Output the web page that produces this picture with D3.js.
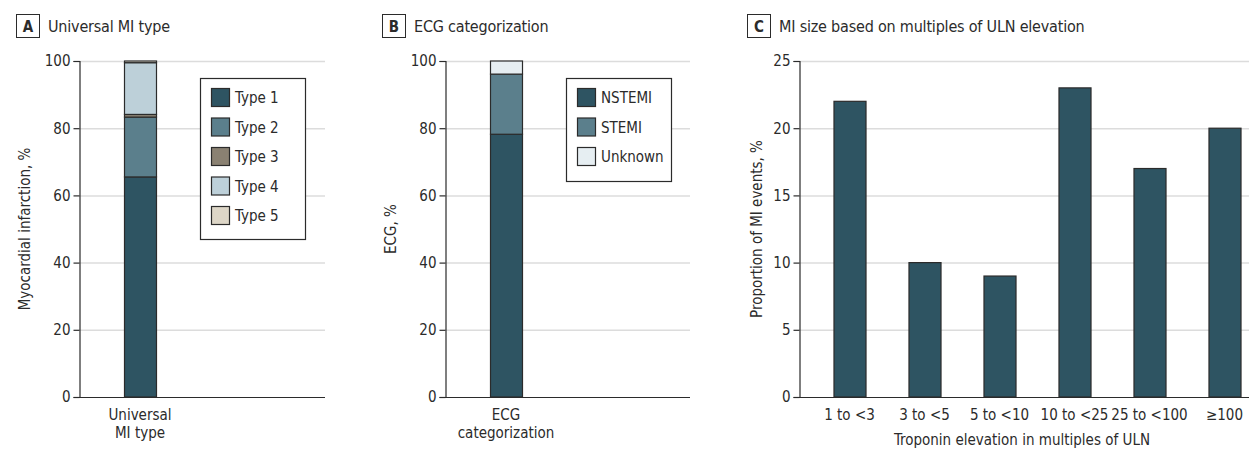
<!DOCTYPE html>
<html>
<head>
<meta charset="utf-8">
<script src="https://cdn.jsdelivr.net/npm/d3@7"></script>
<style>
  html, body { margin: 0; padding: 0; background: #fff; }
  svg { display: block; font-family: "Liberation Sans Narrow", "DejaVu Sans Condensed", Lato, sans-serif; }
</style>
</head>
<body>
<svg id="chart" width="1249" height="450"></svg>
<script>
// Panel A: universal MI type (stacked percent)
const miTypes = ["Type 1", "Type 2", "Type 3", "Type 4", "Type 5"];
const miTypeValues = [65.5, 17.8, 0.8, 15.4, 0.5];
const miTypeColors = ["#2e5462", "#5b7f8c", "#8a8172", "#bdd0d9", "#ddd6c7"];

// Panel B: ECG categorization (stacked percent)
const ecgTypes = ["NSTEMI", "STEMI", "Unknown"];
const ecgValues = [78.2, 17.9, 3.9];
const ecgColors = ["#2e5462", "#5b7f8c", "#e6eef2"];

// Panel C: troponin elevation in multiples of ULN
const troponinBins = ["1 to <3", "3 to <5", "5 to <10", "10 to <25", "25 to <100", "≥100"];
const troponinValues = [22, 10, 9, 23, 17, 20];

const pctTicks = [0, 20, 40, 60, 80, 100];
const propTicks = [0, 5, 10, 15, 20, 25];

const svg = d3.select("#chart");
const plotTop = 61, plotBottom = 397;
const ink = "#2b2b2b";

function panelHeader(x, letter, title) {
  const g = svg.append("g");
  g.append("rect").attr("x", x + 0.5).attr("y", 14.5).attr("width", 23).attr("height", 23)
    .attr("fill", "#fff").attr("stroke", ink).attr("stroke-width", 1);
  g.append("text").attr("x", x + 12).attr("y", 32).attr("text-anchor", "middle")
    .attr("font-size", 15).attr("font-weight", "bold").attr("fill", ink).text(letter);
  g.append("text").attr("x", x + 32).attr("y", 32)
    .attr("font-size", 16).attr("letter-spacing", -0.2).attr("fill", ink).text(title);
}

function yAxisPanel(x0, x1, y, ticks, label, labelX) {
  const g = svg.append("g");
  // gridlines
  g.selectAll("line.grid").data(ticks.filter(t => t !== 0)).join("line")
    .attr("class", "grid")
    .attr("x1", x0).attr("x2", x1)
    .attr("y1", d => y(d) + 0.5).attr("y2", d => y(d) + 0.5)
    .attr("stroke", "#dcdcdc").attr("stroke-width", 1.5);
  const ax = g.append("g").attr("transform", `translate(${x0 + 0.5},0)`)
    .call(d3.axisLeft(y).tickValues(ticks).tickSize(6).tickPadding(3));
  ax.attr("font-family", null);
  ax.select(".domain").attr("stroke", ink).attr("stroke-width", 1.2);
  ax.selectAll(".tick line").attr("stroke", ink).attr("stroke-width", 1.2);
  ax.selectAll(".tick text").attr("font-size", 15).attr("fill", ink);
  // baseline
  g.append("line").attr("x1", x0).attr("x2", x1)
    .attr("y1", y(0) + 0.5).attr("y2", y(0) + 0.5)
    .attr("stroke", ink).attr("stroke-width", 1.2);
  g.append("text")
    .attr("transform", `translate(${labelX},${(plotTop + plotBottom) / 2}) rotate(-90)`)
    .attr("text-anchor", "middle").attr("font-size", 15).attr("fill", ink).text(label);
}

function stackedPanel(x0, x1, names, values, colors, yLabel, labelX, catLines, legendBox) {
  const y = d3.scaleLinear().domain([0, 100]).range([plotBottom, plotTop]);
  yAxisPanel(x0, x1, y, pctTicks, yLabel, labelX);
  const x = d3.scaleBand().domain(["only"]).range([x0 + 45, x0 + 77]);
  const stackData = [Object.fromEntries(names.map((n, i) => [n, values[i]]))];
  const series = d3.stack().keys(names)(stackData);
  svg.append("g").selectAll("rect").data(series).join("rect")
    .attr("x", x("only") + 0.5)
    .attr("width", x.bandwidth())
    .attr("y", d => y(d[0][1]))
    .attr("height", d => y(d[0][0]) - y(d[0][1]))
    .attr("fill", (d, i) => colors[i])
    .attr("stroke", ink).attr("stroke-width", 1.2);
  // category label under the bar
  const t = svg.append("text").attr("text-anchor", "middle").attr("font-size", 15).attr("fill", ink);
  catLines.forEach((line, i) => {
    t.append("tspan").attr("x", x("only") + x.bandwidth() / 2).attr("y", 420 + i * 18).text(line);
  });
  // legend
  const lg = svg.append("g");
  lg.append("rect").attr("x", legendBox.x + 0.5).attr("y", 78.5)
    .attr("width", legendBox.w).attr("height", legendBox.h)
    .attr("fill", "#fff").attr("stroke", ink).attr("stroke-width", 1.2);
  const rows = lg.selectAll("g").data(names).join("g")
    .attr("transform", (d, i) => `translate(${legendBox.x + 11},${88 + i * 29.5})`);
  rows.append("rect").attr("x", 0.5).attr("y", 0.5).attr("width", 18).attr("height", 18)
    .attr("fill", (d, i) => colors[i]).attr("stroke", ink).attr("stroke-width", 1.2);
  rows.append("text").attr("x", 24).attr("y", 15).attr("font-size", 15).attr("fill", ink).text(d => d);
}

// Panel A
panelHeader(16, "A", "Universal MI type");
stackedPanel(79, 325, miTypes, miTypeValues, miTypeColors, "Myocardial infarction, %", 30,
  ["Universal", "MI type"], { x: 200, w: 105, h: 161 });

// Panel B
panelHeader(382, "B", "ECG categorization");
stackedPanel(445, 690, ecgTypes, ecgValues, ecgColors, "ECG, %", 396,
  ["ECG", "categorization"], { x: 566, w: 105, h: 103 });

// Panel C
panelHeader(747, "C", "MI size based on multiples of ULN elevation");
{
  const x0 = 799, x1 = 1249;
  const y = d3.scaleLinear().domain([0, 25]).range([plotBottom, plotTop]);
  yAxisPanel(x0, x1, y, propTicks, "Proportion of MI events, %", 762);
  const x = d3.scaleBand().domain(troponinBins).range([812, 1262]).paddingInner(0.573).paddingOuter(0.2865);
  svg.append("g").selectAll("rect").data(troponinBins).join("rect")
    .attr("x", d => x(d) + 0.5)
    .attr("width", x.bandwidth())
    .attr("y", (d, i) => y(troponinValues[i]))
    .attr("height", (d, i) => y(0) - y(troponinValues[i]))
    .attr("fill", "#2e5462")
    .attr("stroke", ink).attr("stroke-width", 1.2);
  svg.append("g").selectAll("text").data(troponinBins).join("text")
    .attr("x", d => x(d) + x.bandwidth() / 2).attr("y", 420)
    .attr("text-anchor", "middle").attr("font-size", 15).attr("fill", ink).text(d => d);
  svg.append("text").attr("x", 1022).attr("y", 445).attr("text-anchor", "middle")
    .attr("font-size", 15).attr("fill", ink).text("Troponin elevation in multiples of ULN");
}
</script>
</body>
</html>
